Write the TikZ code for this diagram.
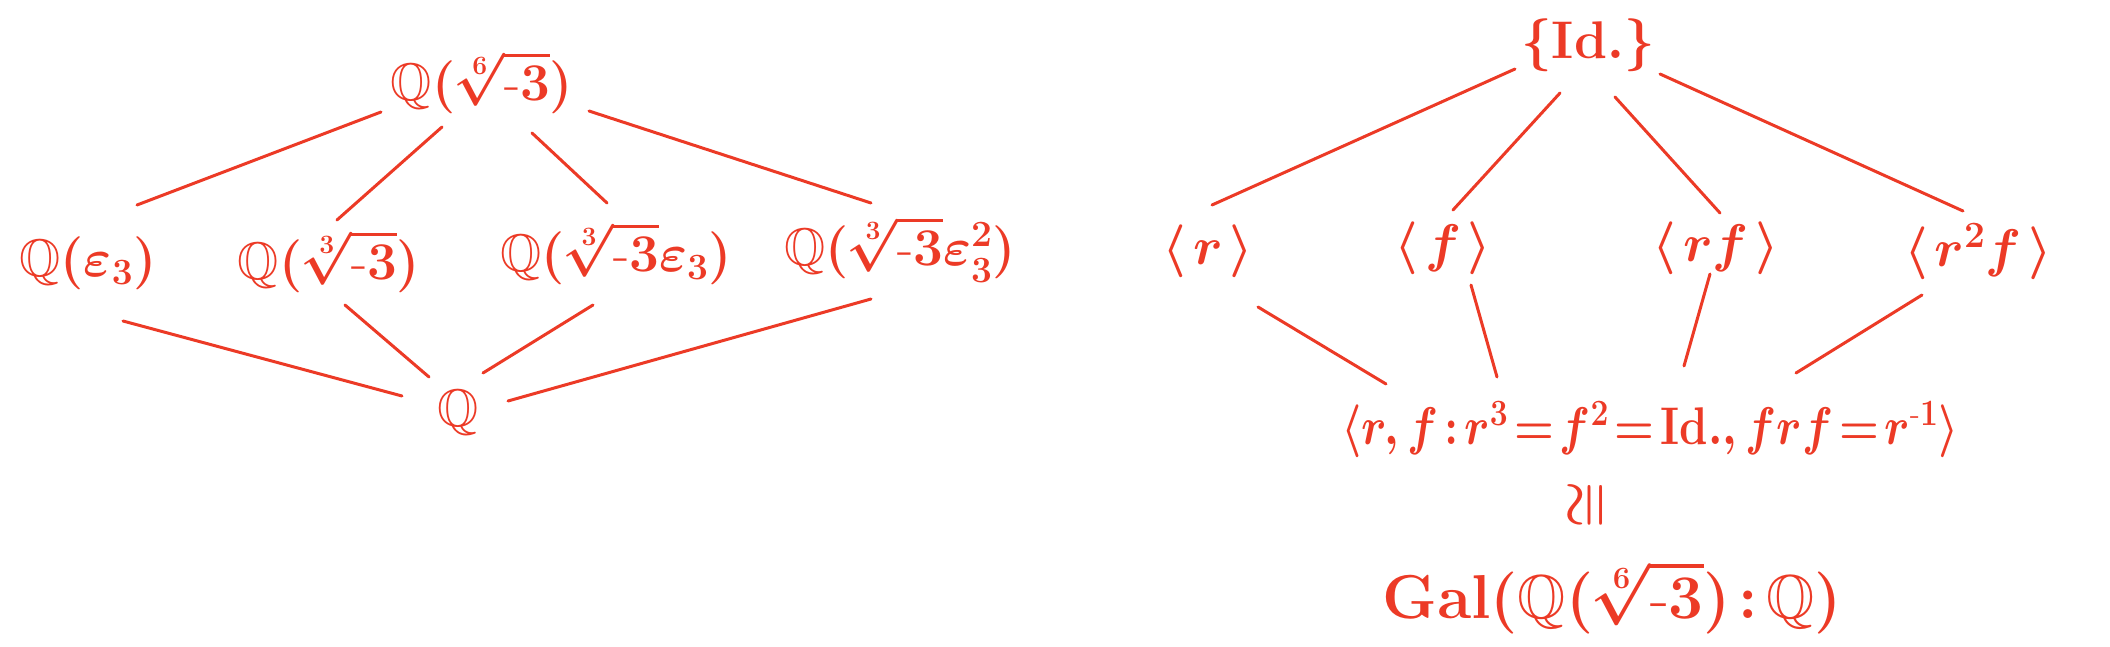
\RequirePackage{fix-cm}
\documentclass[tikz,border=0pt]{standalone}
\usepackage{amsmath,amssymb,graphicx}
\usetikzlibrary{calc}
\definecolor{hred}{RGB}{236,58,38}
\newcommand\hwfont{\fontsize{53}{60}\selectfont\boldmath\thickmuskip=2mu\relax\medmuskip=2mu\relax}
\newcommand\hwbigfont{\fontsize{62}{66}\selectfont\boldmath\thickmuskip=2mu\relax\medmuskip=2mu\relax}
\begin{document}
\begin{tikzpicture}[x=1pt,y=-1pt,
  lbl/.style={text=hred, font=\hwfont, inner sep=0pt},
  big/.style={font=\hwbigfont},
  conn/.style={draw=hred, line width=3pt, line cap=round}]
\useasboundingbox (0,0) rectangle (2110,647);
% left lattice
\node[lbl] (T)  at (482,82)  {$\mathbb{Q}(\sqrt[6]{\text{-}3})$};
\node[lbl] (E1) at (88,263)  {$\mathbb{Q}(\varepsilon_3)$};
\node[lbl] (E2) at (329,261) {$\mathbb{Q}(\sqrt[3]{\text{-}3})$};
\node[lbl] (E3) at (616,253) {$\mathbb{Q}(\sqrt[3]{\text{-}3}\varepsilon_3)$};
\node[lbl] (E4) at (900,249) {$\mathbb{Q}(\sqrt[3]{\text{-}3}\varepsilon_3^2)$};
\node[lbl] (Q)  at (458,413) {$\mathbb{Q}$};
\draw[conn] ($(T.center)+(-101,30)$) -- ($(E1.center)+(49,-58)$);
\draw[conn] ($(T.center)+(-40,45)$)  -- ($(E2.center)+(8,-41)$);
\draw[conn] ($(T.center)+(50,51)$)   -- ($(E3.center)+(-9,-50)$);
\draw[conn] ($(T.center)+(107,29)$)  -- ($(E4.center)+(-29,-46)$);
\draw[conn] ($(E1.center)+(35,58)$)  -- ($(Q.center)+(-56,-17)$);
\draw[conn] ($(E2.center)+(16,44)$)  -- ($(Q.center)+(-29,-36)$);
\draw[conn] ($(E3.center)+(-23,52)$) -- ($(Q.center)+(25,-40)$);
\draw[conn] ($(E4.center)+(-29,50)$) -- ($(Q.center)+(50,-12)$);
% right lattice
\node[lbl] (I)   at (1588,45)  {$\{\mathrm{Id.}\}$};
\node[lbl] (Rr)  at (1208,251) {$\langle\; r\;\rangle$};
\node[lbl] (Rf)  at (1443,248) {$\langle\; f\;\rangle$};
\node[lbl] (Rrf) at (1716,248) {$\langle\; rf\;\rangle$};
\node[lbl] (Rrrf) at (1978,252) {$\langle\; r^2f\;\rangle$};
\node[lbl] (G)   at (1650,430) {\scalebox{0.86}[1]{$\langle r, f : r^3=f^2=\mathrm{Id.}, frf=r^{\text{-}1}\rangle$}};
\node[lbl, rotate=90] (iso) at (1588,505) {$\cong$};
\node[lbl, big] (Gal) at (1612,597) {$\mathrm{Gal}(\mathbb{Q}(\sqrt[6]{\text{-}3}):\mathbb{Q})$};
\draw[conn] ($(I.center)+(-73,24)$) -- ($(Rr.center)+(4,-46)$);
\draw[conn] ($(I.center)+(-28,48)$) -- ($(Rf.center)+(10,-38)$);
\draw[conn] ($(I.center)+(27,52)$)  -- ($(Rrf.center)+(4,-35)$);
\draw[conn] ($(I.center)+(72,29)$)  -- ($(Rrrf.center)+(-15,-41)$);
\draw[conn] ($(Rr.center)+(50,56)$)  -- ($(G.center)+(-264,-46)$);
\draw[conn] ($(Rf.center)+(28,37)$)  -- ($(G.center)+(-153,-53)$);
\draw[conn] ($(Rrf.center)+(-6,26)$) -- ($(G.center)+(34,-64)$);
\draw[conn] ($(Rrrf.center)+(-56,43)$) -- ($(G.center)+(146,-57)$);
\end{tikzpicture}
\end{document}
